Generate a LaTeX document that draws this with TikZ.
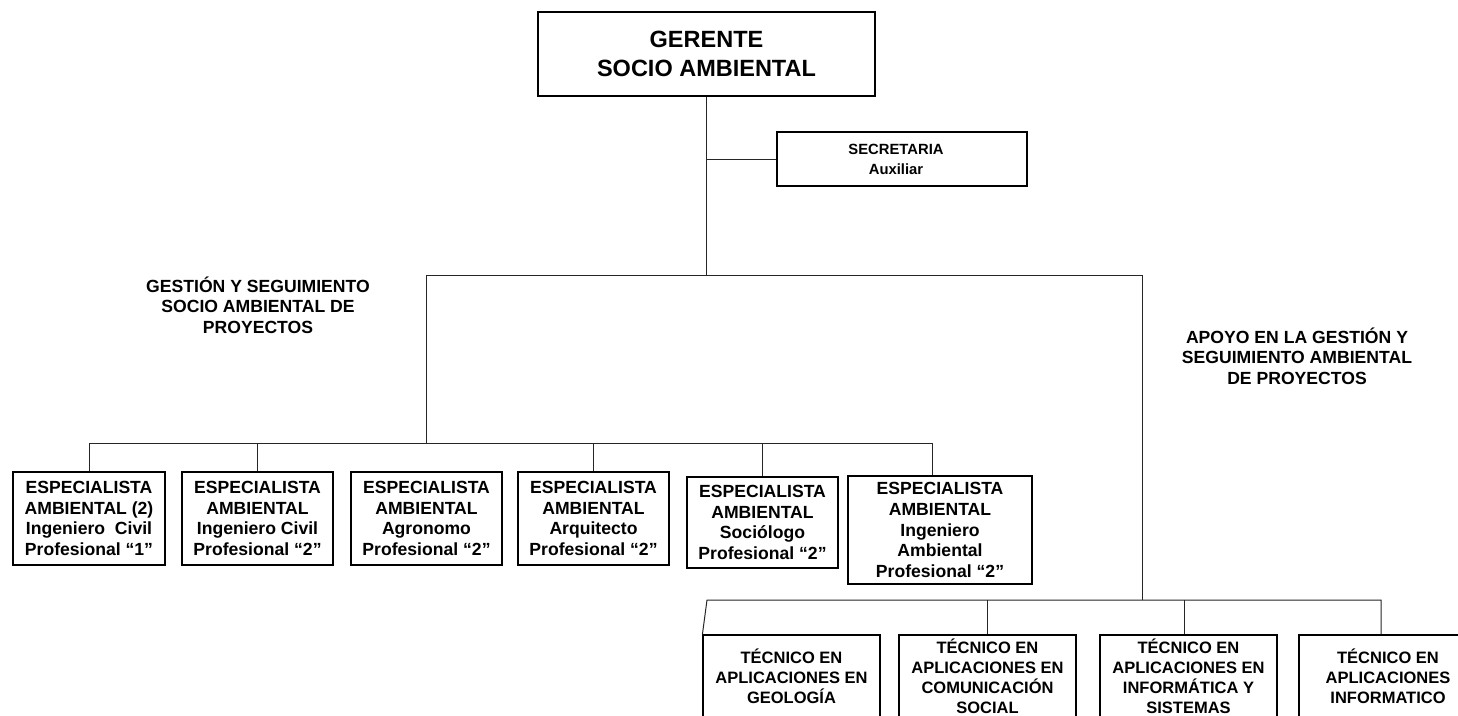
\documentclass[tikz,border=0pt]{standalone}
\usepackage{fontspec}
\setmainfont{Liberation Sans}
\begin{document}
\begin{tikzpicture}[x=1pt,y=-1pt,
  box/.style={draw=black, line width=1.2pt, inner sep=0pt, align=center, fill=white},
  esp/.style={box, font=\fontsize{17.6}{20.8}\selectfont\bfseries},
  tec/.style={box, font=\fontsize{16.5}{20}\selectfont\bfseries, minimum width=177pt, minimum height=82pt},
  lbl/.style={inner sep=0pt, align=center, font=\fontsize{17.6}{20.5}\selectfont\bfseries},
  link/.style={line width=1pt, draw=black!85}]
\useasboundingbox (0,0) rectangle (1458,715);
\clip (0,0) rectangle (1458,715);
\fill[white] (0,0) rectangle (1458,715);

% top of the hierarchy
\node[box, font=\fontsize{23.5}{29}\selectfont\bfseries, minimum width=337pt, minimum height=84pt]
  (ger) at (706.5,54) {GERENTE\\SOCIO AMBIENTAL};
\node[box, font=\fontsize{14.8}{20}\selectfont\bfseries, minimum width=250pt, minimum height=54pt]
  (sec) at (902,159) {\hspace*{-12pt}SECRETARIA\\\hspace*{-12pt}Auxiliar};

% area labels
\node[lbl] (gest) at (258,305) {GESTIÓN Y SEGUIMIENTO\\SOCIO AMBIENTAL DE\\PROYECTOS};
\node[lbl] (apoyo) at (1297,356) {APOYO EN LA GESTIÓN Y\\SEGUIMIENTO AMBIENTAL\\DE PROYECTOS};

% environmental specialists
\node[esp, minimum width=152pt, minimum height=93pt] (e1) at (89,518.5)
  {ESPECIALISTA\\AMBIENTAL (2)\\Ingeniero\ \ Civil\\Profesional “1”};
\node[esp, minimum width=151pt, minimum height=93pt] (e2) at (257.5,518.5)
  {ESPECIALISTA\\AMBIENTAL\\Ingeniero Civil\\Profesional “2”};
\node[esp, minimum width=151pt, minimum height=93pt] (e3) at (426.5,518.5)
  {ESPECIALISTA\\AMBIENTAL\\Agronomo\\Profesional “2”};
\node[esp, minimum width=151pt, minimum height=93pt] (e4) at (593.5,518.5)
  {ESPECIALISTA\\AMBIENTAL\\Arquitecto\\Profesional “2”};
\node[esp, minimum width=151pt, minimum height=91pt] (e5) at (762.5,522.5)
  {ESPECIALISTA\\AMBIENTAL\\Sociólogo\\Profesional “2”};
\node[esp, minimum width=184pt, minimum height=108pt] (e6) at (940,530)
  {ESPECIALISTA\\AMBIENTAL\\Ingeniero\\Ambiental\\Profesional “2”};

% technicians
\node[tec] (t1) at (791.5,676) {TÉCNICO EN\\APLICACIONES EN\\GEOLOGÍA};
\node[tec] (t2) at (987.5,676) {TÉCNICO EN\\APLICACIONES EN\\COMUNICACIÓN\\SOCIAL};
\node[tec] (t3) at (1188.5,676) {TÉCNICO EN\\APLICACIONES EN\\INFORMÁTICA Y\\SISTEMAS};
\node[tec, minimum width=178pt] (t4) at (1388,676) {TÉCNICO EN\\APLICACIONES\\INFORMATICO};

% junctions
\coordinate (hubL) at (426,275);
\coordinate (hubR) at (1142,275);
\coordinate (busL) at (426,443);
\coordinate (busR) at (1142,600);
\coordinate (busT) at (707,600);

% connectors
\draw[link] (ger.south) -- (ger.south |- hubL);
\draw[link] (ger.south |- sec.west) -- (sec.west);
\draw[link] (hubL) -- (hubR);
\draw[link] (hubL) -- (busL);
\draw[link] (e1.north) |- (busL);
\draw[link] (e2.north) -- (e2.north |- busL);
\draw[link] (busL) -| ([xshift=-8pt]e6.north);
\draw[link] (e4.north) -- (e4.north |- busL);
\draw[link] (e5.north) -- (e5.north |- busL);
\draw[link] (hubR) -- (busR);
\draw[link] (t1.north west) -- (busT) -- (busR) -| ([xshift=-7pt]t4.north);
\draw[link] (t2.north) -- (t2.north |- busR);
\draw[link] ([xshift=-4.5pt]t3.north) -- ([xshift=-4.5pt]t3.north |- busR);
\end{tikzpicture}
\end{document}
